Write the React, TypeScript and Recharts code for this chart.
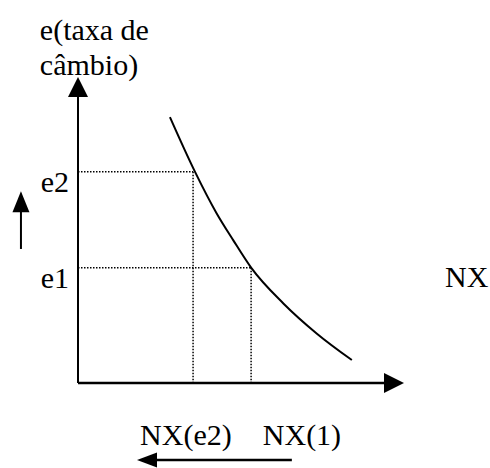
import React from 'react';
import { ComposedChart, Line, XAxis, YAxis, ReferenceLine, ReferenceDot } from 'recharts';

// NX curve (x = net exports, y = exchange rate), in chart units 0..100
const curveX = [28.2, 35.9, 42.5, 47.6, 53.1, 63.0, 73.2, 84.0];
const curveY = [86.9, 69.0, 55.5, 46.7, 37.7, 26.0, 16.2, 7.5];

// exchange-rate levels and the NX values where they meet the curve
const levelLabels = ['e1', 'e2'];
const levelValues = [37.7, 69.0];
const nxAtLevels = [53.1, 35.3];

// labels written under the horizontal axis
const nxLabels = ['NX(e2)', 'NX(1)'];
const nxLabelValues = [33.1, 68.7];

const titleY = ['e(taxa de', 'câmbio)'];
const titleX = 'NX';

const data = curveX.map((x, i) => ({ x, y: curveY[i] }));

const FONT = '"Liberation Serif", "Times New Roman", serif';
const FS = 30;

const arrowShape = (len: number, half: number, width: number) => (p: any) => {
  const { x1, y1, x2, y2 } = p;
  const dx = x2 - x1;
  const dy = y2 - y1;
  const L = Math.hypot(dx, dy) || 1;
  const ux = dx / L;
  const uy = dy / L;
  const bx = x2 - ux * len;
  const by = y2 - uy * len;
  const nx = -uy;
  const ny = ux;
  return (
    <g>
      <line x1={x1} y1={y1} x2={bx + ux * 1} y2={by + uy * 1} stroke="#000" strokeWidth={width} />
      <polygon
        points={`${x2},${y2} ${bx + nx * half},${by + ny * half} ${bx - nx * half},${by - ny * half}`}
        fill="#000"
      />
    </g>
  );
};

const YTick = (p: any) => {
  const idx = levelValues.indexOf(p.payload.value);
  return (
    <text x={p.x} y={p.y} dy={20} textAnchor="end" fontFamily={FONT} fontSize={FS} fill="#000">
      {levelLabels[idx]}
    </text>
  );
};

const XTick = (p: any) => {
  const idx = nxLabelValues.indexOf(p.payload.value);
  return (
    <text x={p.x} y={p.y} dy={62} textAnchor="middle" fontFamily={FONT} fontSize={FS} fill="#000">
      {nxLabels[idx]}
    </text>
  );
};

export default function App() {
  const dotted = { stroke: '#000', strokeWidth: 1.5, strokeDasharray: '1.5 1.5' };
  return (
    <div style={{ position: 'absolute', left: 0, top: 0, width: 490, height: 468, background: '#fff' }}>
      <ComposedChart
        width={490}
        height={468}
        data={data}
        margin={{ top: 77, right: 86, left: 18, bottom: 15 }}
      >
        <XAxis
          type="number"
          dataKey="x"
          domain={[0, 100]}
          ticks={nxLabelValues}
          interval={0}
          axisLine={false}
          tickLine={false}
          tickSize={0}
          tickMargin={0}
          height={70}
          tick={<XTick />}
        />
        <YAxis
          type="number"
          domain={[0, 100]}
          ticks={levelValues}
          interval={0}
          axisLine={false}
          tickLine={false}
          tickSize={0}
          tickMargin={9}
          width={60}
          tick={<YTick />}
        />
        {levelValues.map((v, i) => (
          <ReferenceLine
            key={'h' + i}
            segment={[{ x: 0, y: v }, { x: nxAtLevels[i], y: v }]}
            {...dotted}
          />
        ))}
        {levelValues.map((v, i) => (
          <ReferenceLine
            key={'v' + i}
            segment={[{ x: nxAtLevels[i], y: v }, { x: nxAtLevels[i], y: 0 }]}
            {...dotted}
          />
        ))}
        <ReferenceLine segment={[{ x: 0, y: 0 }, { x: 0, y: 100 }]} ifOverflow="visible" shape={arrowShape(20, 10, 2)} />
        <ReferenceLine segment={[{ x: 0, y: 0 }, { x: 100, y: 0 }]} ifOverflow="visible" shape={arrowShape(20, 10, 2.5)} />
        <ReferenceLine
          segment={[{ x: -17.5, y: 43.8 }, { x: -17.5, y: 62.7 }]}
          ifOverflow="visible"
          shape={arrowShape(21, 8.5, 2)}
        />
        <ReferenceLine
          segment={[{ x: 65.6, y: -25.2 }, { x: 18.1, y: -25.2 }]}
          ifOverflow="visible"
          shape={arrowShape(20, 7.5, 2.5)}
        />
        <Line
          type="monotone"
          dataKey="y"
          stroke="#000"
          strokeWidth={2}
          dot={false}
          isAnimationActive={false}
        />
        <ReferenceDot
          x={-11.7}
          y={112.1}
          ifOverflow="visible"
          shape={(p: any) => (
            <text x={p.cx} y={p.cy} fontFamily={FONT} fontSize={FS} fill="#000">
              <tspan x={p.cx}>{titleY[0]}</tspan>
              <tspan x={p.cx} dy={35}>{titleY[1]}</tspan>
            </text>
          )}
        />
        <ReferenceDot
          x={112.6}
          y={31.4}
          ifOverflow="visible"
          shape={(p: any) => (
            <text x={p.cx} y={p.cy} fontFamily={FONT} fontSize={FS} fill="#000">
              {titleX}
            </text>
          )}
        />
      </ComposedChart>
    </div>
  );
}
